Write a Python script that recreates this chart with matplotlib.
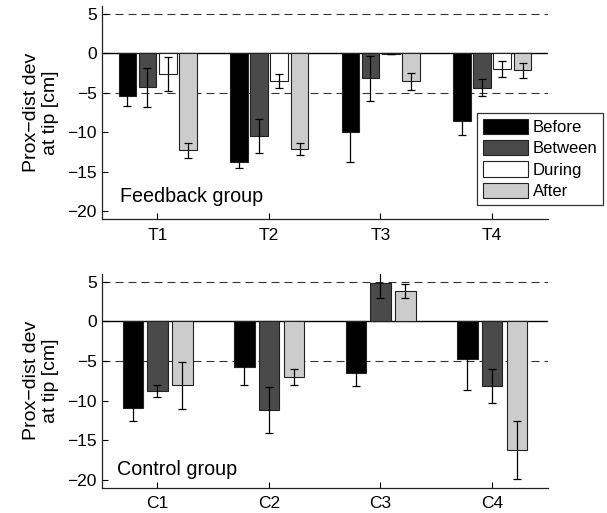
import matplotlib
matplotlib.use("Agg")
import matplotlib.pyplot as plt
import numpy as np

plt.rcParams['font.family'] = ['Liberation Sans', 'DejaVu Sans']
plt.rcParams['font.size'] = 12

# Feedback group
fb_labels = ['T1', 'T2', 'T3', 'T4']
fb_before = [-5.4, -13.8, -10.0, -8.6]
fb_before_err = [1.2, 0.65, 3.7, 1.75]
fb_between = [-4.3, -10.45, -3.15, -4.35]
fb_between_err = [2.5, 2.15, 2.85, 1.1]
fb_during = [-2.65, -3.5, -0.05, -1.95]
fb_during_err = [2.15, 0.85, 0.0, 1.0]
fb_after = [-12.25, -12.05, -3.55, -2.15]
fb_after_err = [0.97, 0.75, 1.05, 0.97]

# Control group
ct_labels = ['C1', 'C2', 'C3', 'C4']
ct_before = [-10.9, -5.75, -6.55, -4.7]
ct_before_err = [1.7, 2.3, 1.6, 4.0]
ct_between = [-8.75, -11.2, 4.8, -8.1]
ct_between_err = [0.75, 2.95, 1.8, 2.15]
ct_after = [-8.05, -7.0, 3.8, -16.25]
ct_after_err = [2.95, 1.0, 0.88, 3.7]

series_names = ['Before', 'Between', 'During', 'After']
colors = {'Before': '#000000', 'Between': '#4a4a4a', 'During': '#ffffff', 'After': '#cccccc'}

W, H = 607, 513
fig = plt.figure(figsize=(W / 100, H / 100), dpi=100)
ax1 = fig.add_axes([101.7 / W, 1 - 219.3 / H, 446 / W, 213.3 / H])
ax2 = fig.add_axes([101.7 / W, 1 - 487.7 / H, 446 / W, 213.7 / H])


def style(ax, labels, ylabel):
    ax.set_xlim(0.5, 4.5)
    ax.set_ylim(-21, 6)
    ax.axhline(0, color='black', lw=1.0, zorder=1)
    for y in (5, -5):
        ax.axhline(y, color='#333333', lw=0.8, ls=(0, (7.2, 4.5)), zorder=0)
    ax.set_xticks(np.arange(1, 5))
    ax.set_xticklabels(labels)
    ax.set_yticks([-20, -15, -10, -5, 0, 5])
    ax.set_yticklabels(['\u221220', '\u221215', '\u221210', '\u22125', '0', '5'])
    ax.tick_params(direction='in', length=4, width=0.8, labelsize=12.5)
    ax.tick_params(axis='x', pad=6)
    ax.tick_params(axis='y', pad=3.5)
    for s in ('top', 'right'):
        ax.spines[s].set_visible(False)
    for s in ('left', 'bottom'):
        ax.spines[s].set_linewidth(0.9)
        ax.spines[s].set_color('#222222')
    ax.set_ylabel(ylabel, fontsize=14, linespacing=1.15, labelpad=6)


x = np.arange(1, 5)
# top panel
data_fb = [(fb_before, fb_before_err), (fb_between, fb_between_err),
           (fb_during, fb_during_err), (fb_after, fb_after_err)]
offs_fb = [-0.27, -0.09, 0.092, 0.275]
handles = []
for name, (vals, errs), off in zip(series_names, data_fb, offs_fb):
    b = ax1.bar(x + off, vals, width=0.158, color=colors[name], edgecolor='#222222',
                linewidth=0.8, zorder=2, label=name)
    handles.append(b)
    ax1.errorbar(x + off, vals, yerr=errs, fmt='none', ecolor='black',
                 elinewidth=0.9, capsize=3, capthick=0.9, zorder=3)
style(ax1, fb_labels, 'Prox\u2212dist dev\nat tip [cm]')
ax1.text(0.664, -18.81, 'Feedback group', fontsize=14.2, va='baseline', ha='left')
leg = ax1.legend(handles=handles, loc='upper left', bbox_to_anchor=(476.7 / W, 1 - 112.7 / H),
                 bbox_transform=fig.transFigure, frameon=True, fancybox=False,
                 handlelength=2.75, handleheight=1.05, handletextpad=0.25,
                 labelspacing=0.3, borderpad=0.35, borderaxespad=0, fontsize=12)
leg.get_frame().set_edgecolor('black')
leg.get_frame().set_linewidth(0.9)

# bottom panel
data_ct = [('Before', ct_before, ct_before_err), ('Between', ct_between, ct_between_err),
           ('After', ct_after, ct_after_err)]
offs_ct = [-0.22, 0.0, 0.224]
for (name, vals, errs), off in zip(data_ct, offs_ct):
    ax2.bar(x + off, vals, width=0.185, color=colors[name], edgecolor='#222222',
            linewidth=0.8, zorder=2)
    ax2.errorbar(x + off, vals, yerr=errs, fmt='none', ecolor='black',
                 elinewidth=0.9, capsize=3, capthick=0.9, zorder=3)
style(ax2, ct_labels, 'Prox\u2212dist dev\nat tip [cm]')
ax2.text(0.634, -19.4, 'Control group', fontsize=14.2, va='baseline', ha='left')

fig.savefig('out.png', dpi=100)
